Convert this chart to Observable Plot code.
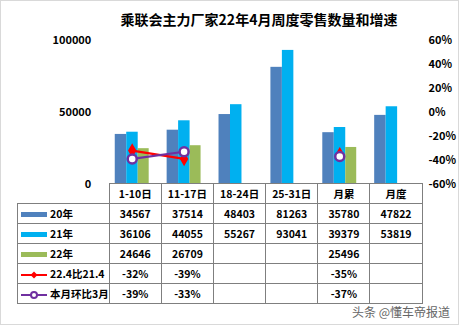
<!DOCTYPE html>
<html><head><meta charset="utf-8">
<script src="https://cdn.jsdelivr.net/npm/d3@7"></script>
<script src="https://cdn.jsdelivr.net/npm/@observablehq/plot@0.6"></script>
<style>
html,body{margin:0;padding:0;background:#fff;}
#wrap{position:relative;width:457px;height:323px;border:1px solid #d9d9d9;font-family:"Noto Sans CJK SC","Noto Sans",sans-serif;overflow:hidden;}
#title{position:absolute;top:8px;left:0;width:516px;text-align:center;font-size:14px;font-weight:bold;color:#000;}
#chart{position:absolute;left:-1px;top:-1px;}
#tbl{position:absolute;left:16px;top:182px;border-collapse:collapse;font-size:10.5px;font-weight:bold;color:#000;table-layout:fixed;}
#tbl td{border:1px solid #7f7f7f;height:19px;padding:0;text-align:center;white-space:nowrap;}
#tbl td.blank{border:none;}
#tbl td.leg{text-align:left;padding-left:3px;}
.sw{display:inline-block;vertical-align:middle;margin-right:3px;}
#wm{position:absolute;right:8px;bottom:4px;font-size:12px;color:#666;text-shadow:0 0 2px #fff;}
</style>
</head><body>
<div id="wrap">
  <div id="title"></div>
  <div id="chart"></div>
  <table id="tbl"></table>
  <div id="wm">头条 @懂车帝报道</div>
</div>
<script>
const title = "乘联会主力厂家22年4月周度零售数量和增速";
const categories = ["1-10日","11-17日","18-24日","25-31日","月累","月度"];
const y20 = [34567,37514,48403,81263,35780,47822];
const y21 = [36106,44055,55267,93041,39379,53819];
const y22 = [24646,26709,null,null,25496,null];
const yoy = [-32,-39,null,null,-35,null];   // 22.4比21.4 (%)
const mom = [-39,-33,null,null,-37,null];   // 本月环比3月 (%)
const seriesNames = ["20年","21年","22年","22.4比21.4","本月环比3月"];
const leftTicks = [0,50000,100000];
const rightTicks = [-60,-40,-20,0,20,40,60];
const colors = ["#4f81bd","#00b0f0","#9bbb59","#ff0000","#7030a0"];

const pctToY = p => (p + 60) / 120 * 100000;
const yToPct = v => Math.round(v / 100000 * 120 - 60);

document.getElementById("title").textContent = title;

const bars = categories.map((c,i)=>({c, a:y20[i], b:y21[i], g:y22[i]}));
const lineSeg = (arr)=>categories.map((c,i)=>({c, v: arr[i]==null?null:pctToY(arr[i])})).filter(d=>d.v!=null);
const yoyPts = lineSeg(yoy), momPts = lineSeg(mom);
const contiguous = pts => pts.filter(d=>d.c==="1-10日"||d.c==="11-17日");

const plot = Plot.plot({
  width: 459, height: 325,
  marginLeft: 106, marginRight: 41, marginTop: 40, marginBottom: 141,
  style: {fontFamily: '"Noto Sans CJK SC","Noto Sans",sans-serif', fontSize: "11px", fontWeight: "bold", color: "#000", background: "transparent"},
  x: {domain: categories, padding: 0, axis: null},
  y: {domain: [0,100000], axis: null},
  marks: [
    Plot.axisY(leftTicks, {anchor: "left", tickSize: 0, tickPadding: 15, tickFormat: d => String(d), fontSize: 11, fontWeight: "bold"}),
    Plot.axisY(rightTicks.map(pctToY), {anchor: "right", tickSize: 0, tickPadding: 11, tickFormat: v => yToPct(v) + "%", fontSize: 11, fontWeight: "bold"}),
    Plot.barY(bars, {x: "c", y: "a", fill: colors[0], insetLeft: 9, insetRight: 31.5}),
    Plot.barY(bars, {x: "c", y: "b", fill: colors[1], insetLeft: 20.5, insetRight: 20}),
    Plot.barY(bars.filter(d=>d.g!=null), {x: "c", y: "g", fill: colors[2], insetLeft: 32, insetRight: 9}),
    Plot.line(contiguous(yoyPts), {x: "c", y: "v", stroke: colors[3], strokeWidth: 2.2}),
    Plot.dot(yoyPts, {x: "c", y: "v", symbol: "diamond", r: 3.5, fill: colors[3], stroke: colors[3]}),
    Plot.line(contiguous(momPts), {x: "c", y: "v", stroke: colors[4], strokeWidth: 2.2}),
    Plot.dot(momPts, {x: "c", y: "v", r: 4.5, fill: "#fff", stroke: colors[4], strokeWidth: 2.5})
  ]
});
document.getElementById("chart").appendChild(plot);

// table
const tbl = document.getElementById("tbl");
const colW = [88].concat(categories.map(()=>52.17));
const cg = document.createElement("colgroup");
colW.forEach(w=>{const c=document.createElement("col"); c.style.width=w+"px"; cg.appendChild(c);});
tbl.appendChild(cg);
const hdr = document.createElement("tr");
hdr.innerHTML = '<td class="blank"></td>' + categories.map(c=>`<td>${c}</td>`).join("");
tbl.appendChild(hdr);
function swatch(i){
  if (i < 3) return `<svg class="sw" width="26" height="8"><rect x="0" y="1" width="26" height="5" fill="${colors[i]}"/></svg>`;
  if (i === 3) return `<svg class="sw" width="26" height="10"><line x1="0" y1="5" x2="26" y2="5" stroke="${colors[3]}" stroke-width="2"/><path d="M13 1.5 L16.5 5 L13 8.5 L9.5 5Z" fill="${colors[3]}"/></svg>`;
  return `<svg class="sw" width="26" height="10"><line x1="0" y1="5" x2="26" y2="5" stroke="${colors[4]}" stroke-width="2"/><circle cx="13" cy="5" r="3" fill="#fff" stroke="${colors[4]}" stroke-width="2"/></svg>`;
}
const rows = [y20, y21, y22, yoy, mom];
rows.forEach((arr,i)=>{
  const tr = document.createElement("tr");
  const fmt = v => v==null ? "" : (i>=3 ? v + "%" : String(v));
  tr.innerHTML = `<td class="leg">${swatch(i)}${seriesNames[i]}</td>` + arr.map(v=>`<td>${fmt(v)}</td>`).join("");
  tbl.appendChild(tr);
});
</script>
</body></html>
